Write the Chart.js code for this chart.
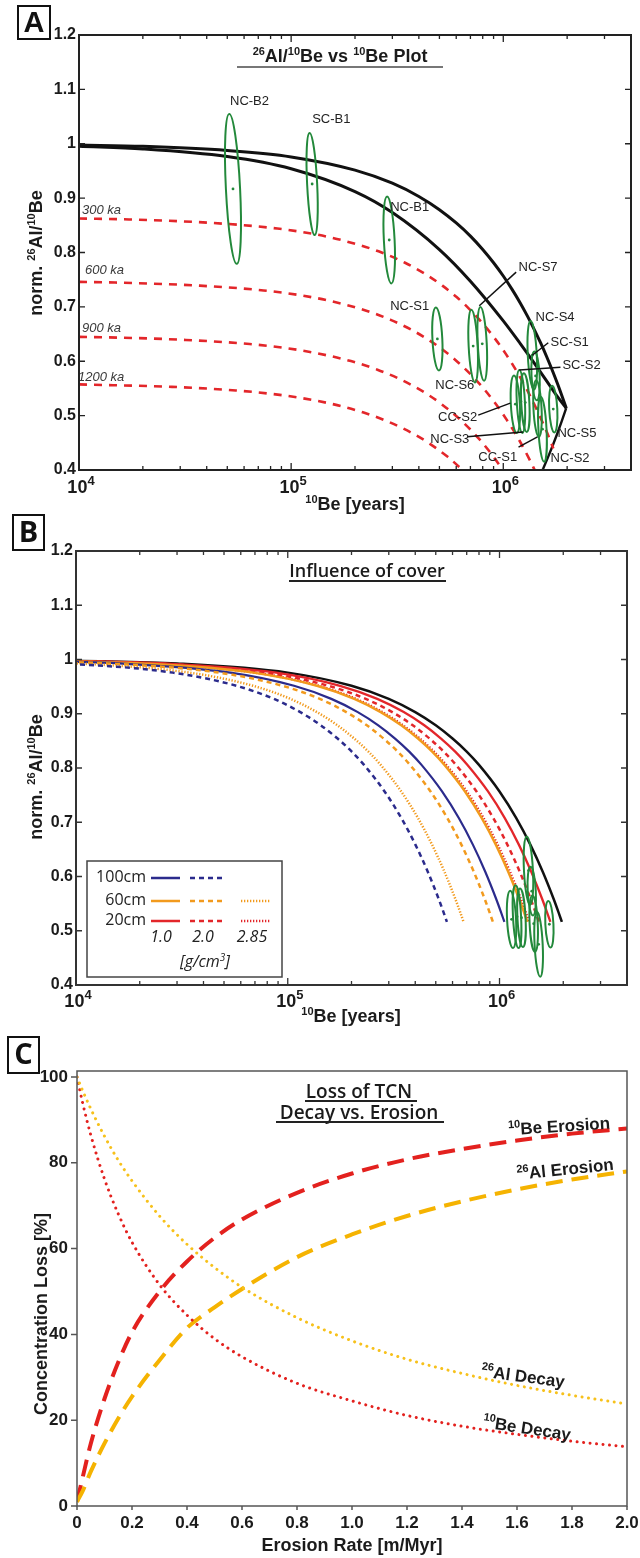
<!DOCTYPE html>
<html>
<head>
<meta charset="utf-8">
<title>26Al/10Be plots</title>
<script src="https://cdn.jsdelivr.net/npm/chart.js@4.4.1/dist/chart.umd.min.js"></script>
<style>
  html, body { margin: 0; padding: 0; background: #fff; }
  body { width: 640px; height: 1558px; position: relative; overflow: hidden; }
  canvas { position: absolute; left: 0; }
</style>
</head>
<body>
<canvas id="chartA" width="640" height="520" style="top:0"></canvas>
<canvas id="chartB" width="640" height="530" style="top:505px"></canvas>
<canvas id="chartC" width="640" height="528" style="top:1030px"></canvas>
<script>
/* three stacked panels: A) 26Al/10Be vs 10Be, B) influence of cover, C) loss of TCN */

// ---------- panel A data ----------
// constant exposure (upper black curve)
const expX = [1e4, 2e4, 5e4, 1e5, 2e5, 3e5, 4e5, 5e5, 6e5, 7e5, 8e5, 9e5, 1e6, 1.1e6, 1.2e6, 1.3e6, 1.4e6, 1.5e6, 1.6e6, 1.7e6, 1.8e6, 1.9e6, 1.95e6, 1.98e6];
const expR = [0.9976, 0.9952, 0.9875, 0.9758, 0.9515, 0.9274, 0.9030, 0.8787, 0.8543, 0.8302, 0.8057, 0.7812, 0.7568, 0.7322, 0.7077, 0.6830, 0.6583, 0.6336, 0.6088, 0.5839, 0.5590, 0.5339, 0.5213, 0.5137];
// steady state erosion (lower black curve)
const eroX = [1e4, 2e4, 5e4, 1e5, 2e5, 3e5, 5e5, 7e5, 1e6, 1.2e6, 1.4e6, 1.6e6, 1.8e6, 1.98e6];
const eroR = [0.9952, 0.9904, 0.9764, 0.9539, 0.9119, 0.8734, 0.8054, 0.7472, 0.6742, 0.6329, 0.5965, 0.5639, 0.5348, 0.5137];
// burial path from saturation
const burX = [1.98e6, 1.883e6, 1.792e6, 1.705e6, 1.622e6, 1.543e6, 1.504e6];
const burR = [0.5137, 0.4888, 0.4657, 0.4437, 0.4228, 0.4029, 0.3937];
// burial isochrons
const iso300X = [1.0e4, 1.722e4, 4.304e4, 8.608e4, 1.291e5, 1.722e5, 2.582e5, 3.443e5, 4.304e5, 5.165e5, 6.026e5, 6.886e5, 8.608e5, 1.033e6, 1.205e6, 1.377e6, 1.549e6, 1.636e6, 1.722e6];
const iso300R = [0.8626, 0.8608, 0.8542, 0.8441, 0.8337, 0.8230, 0.8022, 0.7811, 0.7601, 0.7390, 0.7181, 0.6969, 0.6546, 0.6122, 0.5694, 0.5266, 0.4835, 0.4618, 0.4394];
const iso600X = [1.0e4, 1.482e4, 3.705e4, 7.41e4, 1.112e5, 1.482e5, 2.223e5, 2.964e5, 3.705e5, 4.446e5, 5.187e5, 5.928e5, 7.41e5, 8.892e5, 1.037e6, 1.186e6, 1.334e6, 1.408e6];
const iso600R = [0.7459, 0.7447, 0.7390, 0.7302, 0.7212, 0.7120, 0.6940, 0.6757, 0.6575, 0.6393, 0.6212, 0.6029, 0.5663, 0.5296, 0.4926, 0.4556, 0.4183, 0.3995];
const iso900X = [1.0e4, 1.276e4, 3.189e4, 6.378e4, 9.567e4, 1.276e5, 1.913e5, 2.551e5, 3.189e5, 3.827e5, 4.465e5, 5.102e5, 6.378e5, 7.654e5, 8.929e5, 1.020e6];
const iso900R = [0.6448, 0.6442, 0.6392, 0.6316, 0.6239, 0.6159, 0.6003, 0.5845, 0.5688, 0.5530, 0.5374, 0.5215, 0.4899, 0.4581, 0.4261, 0.3941];
const iso1200X = [1.0e4, 2.745e4, 5.49e4, 8.235e4, 1.098e5, 1.647e5, 2.196e5, 2.745e5, 3.294e5, 3.843e5, 4.392e5, 5.49e5, 6.588e5];
const iso1200R = [0.5574, 0.5529, 0.5463, 0.5396, 0.5328, 0.5193, 0.5056, 0.4920, 0.4783, 0.4648, 0.4511, 0.4237, 0.3962];
const isoLabels = ['300 ka', '600 ka', '900 ka', '1200 ka'];

// samples (error ellipses)
const sampleNames = ['NC-B2', 'SC-B1', 'NC-B1', 'NC-S1', 'NC-S6', 'NC-S7', 'NC-S4', 'SC-S1', 'CC-S2', 'SC-S2', 'NC-S3', 'CC-S1', 'NC-S2', 'NC-S5'];
const sampleBe = [5.32e4, 1.256e5, 2.9e5, 4.89e5, 7.21e5, 7.96e5, 1.37e6, 1.42e6, 1.14e6, 1.21e6, 1.27e6, 1.45e6, 1.53e6, 1.72e6];
const sampleBeErr = [0.08, 0.056, 0.06, 0.055, 0.05, 0.05, 0.05, 0.045, 0.05, 0.045, 0.045, 0.045, 0.045, 0.045]; // relative
const sampleRatio = [0.917, 0.926, 0.823, 0.641, 0.628, 0.632, 0.611, 0.573, 0.521, 0.526, 0.524, 0.513, 0.475, 0.512];
const sampleRatioErr = [0.138, 0.094, 0.080, 0.058, 0.067, 0.068, 0.063, 0.045, 0.053, 0.058, 0.054, 0.052, 0.060, 0.043];
const coverSamples = [6, 7, 8, 9, 10, 11, 12, 13]; // shown again in panel B

// ---------- panel B data ----------
const bRatio = [0.9976, 0.9927, 0.9758, 0.9515, 0.9274, 0.9030, 0.8787, 0.8543, 0.8302, 0.8057, 0.7568, 0.7077, 0.6583, 0.6088, 0.5590, 0.5339, 0.5162];
const bNoCoverX = [1e4, 3e4, 1e5, 2e5, 3e5, 4e5, 5e5, 6e5, 7e5, 8e5, 1e6, 1.2e6, 1.4e6, 1.6e6, 1.8e6, 1.9e6, 1.97e6];
const b20cm10X = [8825, 26475, 88250, 176500, 264750, 353000, 441250, 529500, 617750, 706000, 882500, 1059000, 1235500, 1412000, 1588500, 1676750, 1738500];
const b20cm20X = [7788, 23364, 77880, 155760, 233640, 311520, 389400, 467280, 545160, 623040, 778800, 934560, 1090320, 1246080, 1401840, 1479720, 1534240];
const b20cm285X = [7003, 21009, 70030, 140060, 210090, 280120, 350150, 420180, 490210, 560240, 700300, 840360, 980420, 1120480, 1260540, 1330570, 1379590];
const b60cm10X = [6873, 20619, 68730, 137460, 206190, 274920, 343650, 412380, 481110, 549840, 687300, 824760, 962220, 1099680, 1237140, 1305870, 1353980];
const b60cm20X = [4724, 14172, 47240, 94480, 141720, 188960, 236200, 283440, 330680, 377920, 472400, 566880, 661360, 755840, 850320, 897560, 930630];
const b60cm285X = [3434, 10302, 34340, 68680, 103020, 137360, 171700, 206040, 240380, 274720, 343400, 412080, 480760, 549440, 618120, 652460, 676500];
const b100cm10X = [5353, 16059, 53530, 107060, 160590, 214120, 267650, 321180, 374710, 428240, 535300, 642360, 749420, 856480, 963540, 1017070, 1054540];
const b100cm20X = [2865, 8595, 28650, 57300, 85950, 114600, 143250, 171900, 200550, 229200, 286500, 343800, 401100, 458400, 515700, 544350, 564400];

// ---------- panel C data ----------
const erosionRate = [0, 0.02, 0.05, 0.1, 0.15, 0.2, 0.3, 0.4, 0.5, 0.6, 0.8, 1.0, 1.2, 1.4, 1.6, 1.8, 2.0];
const be10Erosion = [1, 6.5, 14.5, 25, 33.5, 40.5, 50, 57, 62.5, 66.8, 73, 77.5, 80.8, 83.2, 85.2, 86.8, 88];
const al26Erosion = [1, 3.4, 8, 14.6, 20.4, 25.5, 34, 41.5, 46.3, 50.6, 58, 63.3, 67.6, 71, 73.8, 76.1, 78];
const be10Decay = [100, 94.1, 86.5, 76.2, 68.1, 61.5, 51.6, 44.5, 39.0, 34.8, 28.6, 24.5, 21.1, 18.6, 16.7, 15.1, 13.8];
const al26Decay = [100, 96.9, 92.6, 86.2, 80.6, 75.8, 67.6, 61.0, 55.6, 51.0, 43.9, 38.5, 34.2, 30.9, 28.1, 25.8, 23.8];

// ---------- ticks ----------
const logMajor = [1e4, 1e5, 1e6];
const logMajorExp = ['4', '5', '6'];
const logMinor = [2e4, 3e4, 4e4, 5e4, 6e4, 7e4, 8e4, 9e4, 2e5, 3e5, 4e5, 5e5, 6e5, 7e5, 8e5, 9e5, 2e6, 3e6];
const ratioTicks = [0.4, 0.5, 0.6, 0.7, 0.8, 0.9, 1.0, 1.1, 1.2];
const ratioTickText = ['0.4', '0.5', '0.6', '0.7', '0.8', '0.9', '1', '1.1', '1.2'];
const cTicksX = [0, 0.2, 0.4, 0.6, 0.8, 1.0, 1.2, 1.4, 1.6, 1.8, 2.0];
const cTickTextX = ['0', '0.2', '0.4', '0.6', '0.8', '1.0', '1.2', '1.4', '1.6', '1.8', '2.0'];
const cTicksY = [0, 20, 40, 60, 80, 100];

// ---------- styling ----------
const INK = '#1b1b1b';
const SANS = '"Liberation Sans", Arial, Helvetica, sans-serif';
const OPEN = '"Open Sans", "Liberation Sans", sans-serif';
const GREEN = '#23893b', RED = '#e3262a', BLUE = '#2b2b8c', ORANGE = '#f29a1d';
const C_RED = '#e3211e', GOLD = '#f5b301', GOLD_DOT = '#f7c11b';
const DASH_B = [5, 4], DOT_B = [1.3, 1.7];

// annotation placement (data coordinates)
const labelAtX = [5.15e4, 1.256e5, 2.93e5, 2.93e5, 4.78e5, 1.18e6, 1.42e6, 1.67e6, 4.93e5, 1.90e6, 4.53e5, 7.62e5, 1.67e6, 1.80e6];
const labelAtY = [1.077, 1.045, 0.882, 0.700, 0.556, 0.773, 0.681, 0.635, 0.496, 0.593, 0.457, 0.424, 0.422, 0.468];
const leaders = [
  [1.15e6, 0.764, 7.71e5, 0.702],
  [1.63e6, 0.634, 1.37e6, 0.611],
  [1.86e6, 0.589, 1.19e6, 0.584],
  [7.62e5, 0.501, 1.08e6, 0.523],
  [6.76e5, 0.461, 1.24e6, 0.470],
  [1.18e6, 0.442, 1.45e6, 0.461]
];
const isoLabelX = [1.033e4, 1.067e4, 1.033e4, 0.99e4];
const isoLabelY = [0.877, 0.768, 0.661, 0.571];

function pts(xs, ys) { return xs.map((v, i) => ({ x: v, y: ys[i] })); }

function line(xs, ys, color, width, dash, extra) {
  return Object.assign({
    data: pts(xs, ys), borderColor: color, borderWidth: width, borderDash: dash || [],
    pointRadius: 0, fill: false, cubicInterpolationMode: 'monotone', clip: 0
  }, extra || {});
}

// text with superscript parts: [[text, isSup], ...]
function rich(ctx, parts, x, y, size, opts) {
  opts = opts || {};
  const weight = opts.weight || 'bold';
  const fam = opts.family || SANS;
  const sup = opts.sup || Math.round(size * 0.62);
  const rise = opts.rise || size * 0.4;
  const style = opts.italic ? 'italic ' : '';
  let w = 0;
  parts.forEach(p => { ctx.font = `${style}${weight} ${p[1] ? sup : size}px ${fam}`; w += ctx.measureText(p[0]).width; });
  let cx = opts.align === 'center' ? x - w / 2 : opts.align === 'right' ? x - w : x;
  ctx.textAlign = 'left';
  parts.forEach(p => {
    ctx.font = `${style}${weight} ${p[1] ? sup : size}px ${fam}`;
    ctx.fillText(p[0], cx, p[1] ? y - rise : y);
    cx += ctx.measureText(p[0]).width;
  });
  return w;
}

function letterBox(ctx, ch, l, t, w, h, font) {
  ctx.save();
  ctx.lineWidth = 2; ctx.strokeStyle = '#111'; ctx.strokeRect(l, t, w, h);
  ctx.fillStyle = '#111'; ctx.font = font; ctx.textAlign = 'center'; ctx.textBaseline = 'middle';
  ctx.fillText(ch, l + w / 2, t + h / 2 + 1);
  ctx.restore();
}

function underlinedTitle(ctx, parts, cx, base, size, family, weight, lineY, x0, x1, lineColor) {
  ctx.save();
  ctx.fillStyle = INK; ctx.textBaseline = 'alphabetic';
  rich(ctx, parts, cx, base, size, { align: 'center', family: family, weight: weight });
  ctx.strokeStyle = lineColor; ctx.lineWidth = 1.8;
  ctx.beginPath(); ctx.moveTo(x0, lineY); ctx.lineTo(x1, lineY); ctx.stroke();
  ctx.restore();
}

function drawEllipses(chart, ids) {
  const { ctx, chartArea: a, scales: { x, y } } = chart;
  ctx.save();
  ctx.beginPath(); ctx.rect(a.left, a.top, a.width, a.height); ctx.clip();
  ctx.strokeStyle = GREEN; ctx.fillStyle = GREEN; ctx.lineWidth = 2;
  ids.forEach(i => {
    const cx = x.getPixelForValue(sampleBe[i]);
    const cy = y.getPixelForValue(sampleRatio[i]);
    const rx = (x.getPixelForValue(sampleBe[i] * (1 + sampleBeErr[i])) - x.getPixelForValue(sampleBe[i] / (1 + sampleBeErr[i]))) / 2;
    const ry = (y.getPixelForValue(sampleRatio[i] - sampleRatioErr[i]) - y.getPixelForValue(sampleRatio[i] + sampleRatioErr[i])) / 2;
    ctx.beginPath(); ctx.ellipse(cx, cy, rx, ry, -0.05, 0, Math.PI * 2); ctx.stroke();
    ctx.beginPath(); ctx.arc(cx, cy, 1.4, 0, Math.PI * 2); ctx.fill();
  });
  ctx.restore();
}

// frame, inward ticks and axis text for the two log panels
function drawLogAxes(chart, s) {
  const { ctx, chartArea: a, scales: { x, y } } = chart;
  ctx.save();
  ctx.strokeStyle = s.frame; ctx.lineWidth = 1.3;
  ctx.beginPath();
  logMinor.forEach(v => {
    const p = x.getPixelForValue(v);
    ctx.moveTo(p, a.bottom); ctx.lineTo(p, a.bottom - 4);
    ctx.moveTo(p, a.top); ctx.lineTo(p, a.top + 4);
  });
  logMajor.forEach(v => {
    const p = x.getPixelForValue(v);
    ctx.moveTo(p, a.bottom); ctx.lineTo(p, a.bottom - 7);
    ctx.moveTo(p, a.top); ctx.lineTo(p, a.top + 7);
  });
  ratioTicks.forEach(v => {
    const p = y.getPixelForValue(v);
    ctx.moveTo(a.left, p); ctx.lineTo(a.left + 6, p);
    ctx.moveTo(a.right, p); ctx.lineTo(a.right - 6, p);
  });
  ctx.stroke();
  ctx.lineWidth = s.frameWidth;
  ctx.strokeRect(a.left, a.top, a.width, a.height);

  ctx.fillStyle = INK;
  ctx.font = 'bold 16px ' + SANS; ctx.textAlign = 'right'; ctx.textBaseline = 'middle';
  ratioTicks.forEach((v, i) => ctx.fillText(ratioTickText[i], s.yLabelRight, y.getPixelForValue(v)));
  ctx.textBaseline = 'alphabetic';
  logMajor.forEach((v, i) => rich(ctx, [['10', 0], [logMajorExp[i], 1]], x.getPixelForValue(v) + 2, s.xLabelBase, 18, { align: 'center', sup: 13, rise: 8 }));
  rich(ctx, [['10', 1], ['Be [years]', 0]], s.xTitleX, s.xTitleBase, 18, { align: 'center' });
  ctx.save();
  ctx.translate(s.yTitleBase, s.yTitleY); ctx.rotate(-Math.PI / 2);
  rich(ctx, [['norm. ', 0], ['26', 1], ['Al/', 0], ['10', 1], ['Be', 0]], 0, 0, 18, { align: 'center' });
  ctx.restore();
  ctx.restore();
}

const hiddenAxis = {
  ticks: { display: false }, grid: { display: false, drawTicks: false }, border: { display: false },
  title: { display: false }, afterFit: s => { s.width = 0; s.height = 0; }
};

function baseOptions(xs, ys, pad) {
  return {
    responsive: false, animation: false, devicePixelRatio: 1,
    layout: { padding: pad },
    plugins: { legend: { display: false }, tooltip: { enabled: false }, title: { display: false } },
    scales: { x: Object.assign({}, hiddenAxis, xs), y: Object.assign({}, hiddenAxis, ys) }
  };
}

// ================= panel A =================
const decorA = {
  id: 'decorA',
  afterDatasetsDraw(chart) { drawEllipses(chart, sampleNames.map((n, i) => i)); },
  afterDraw(chart) {
    const { ctx, scales: { x, y } } = chart;
    ctx.save();
    // leader lines
    ctx.strokeStyle = '#111'; ctx.lineWidth = 1.5;
    leaders.forEach(l => {
      ctx.beginPath();
      ctx.moveTo(x.getPixelForValue(l[0]), y.getPixelForValue(l[1]));
      ctx.lineTo(x.getPixelForValue(l[2]), y.getPixelForValue(l[3]));
      ctx.stroke();
    });
    // sample labels
    ctx.fillStyle = '#222'; ctx.font = '13px ' + SANS; ctx.textAlign = 'left'; ctx.textBaseline = 'middle';
    sampleNames.forEach((n, i) => ctx.fillText(n, x.getPixelForValue(labelAtX[i]), y.getPixelForValue(labelAtY[i])));
    // isochron labels
    ctx.fillStyle = '#3a3a3a'; ctx.font = 'italic 13px ' + SANS;
    isoLabels.forEach((t, i) => ctx.fillText(t, x.getPixelForValue(isoLabelX[i]), y.getPixelForValue(isoLabelY[i])));
    ctx.restore();

    drawLogAxes(chart, { frame: '#222', frameWidth: 2, yLabelRight: 76, xLabelBase: 493, xTitleX: 355, xTitleBase: 510, yTitleBase: 42, yTitleY: 253 });
    underlinedTitle(ctx, [['26', 1], ['Al/', 0], ['10', 1], ['Be vs ', 0], ['10', 1], ['Be Plot', 0]], 340, 62, 18, SANS, 'bold', 67, 237, 443, '#777');
    letterBox(ctx, 'A', 18, 6, 32, 33, 'bold 29px ' + SANS);
  }
};

new Chart(document.getElementById('chartA'), {
  type: 'line',
  data: {
    datasets: [
      line(iso300X, iso300R, RED, 2.6, [8, 7]),
      line(iso600X, iso600R, RED, 2.6, [8, 7]),
      line(iso900X, iso900R, RED, 2.6, [8, 7]),
      line(iso1200X, iso1200R, RED, 2.6, [8, 7]),
      line(expX, expR, '#111', 3),
      line(eroX, eroR, '#111', 3),
      line(burX, burR, '#111', 2.4, [], { cubicInterpolationMode: 'default', tension: 0 })
    ]
  },
  options: baseOptions({ type: 'logarithmic', min: 1e4, max: 4e6 }, { type: 'linear', min: 0.4, max: 1.2 }, { left: 79, right: 9, top: 35, bottom: 50 }),
  plugins: [decorA]
});

// ================= panel B =================
function drawLegendB(ctx) {
  ctx.save();
  ctx.fillStyle = '#fff'; ctx.fillRect(87, 356, 195, 116);
  ctx.strokeStyle = '#444'; ctx.lineWidth = 1.5; ctx.strokeRect(87, 356, 195, 116);
  const rows = [
    ['100cm', BLUE, 372, [[], DASH_B, null]],
    ['60cm', ORANGE, 395, [[], DASH_B, DOT_B]],
    ['20cm', RED, 415, [[], DASH_B, DOT_B]]
  ];
  const cols = [[151, 180], [190, 225], [241, 271]];
  rows.forEach(r => {
    ctx.fillStyle = '#222'; ctx.font = '16px ' + OPEN; ctx.textAlign = 'right'; ctx.textBaseline = 'middle';
    ctx.fillText(r[0], 146, r[2]);
    r[3].forEach((d, j) => {
      if (!d) return;
      ctx.strokeStyle = r[1]; ctx.lineWidth = 2.5; ctx.setLineDash(d);
      ctx.beginPath(); ctx.moveTo(cols[j][0], r[2] + 1); ctx.lineTo(cols[j][1], r[2] + 1); ctx.stroke();
    });
  });
  ctx.setLineDash([]);
  ctx.fillStyle = '#222'; ctx.textAlign = 'center'; ctx.textBaseline = 'middle'; ctx.font = 'italic 16px ' + OPEN;
  ctx.fillText('1.0', 161, 432);
  ctx.fillText('2.0', 203, 432);
  ctx.fillText('2.85', 252, 432);
  ctx.textBaseline = 'alphabetic';
  rich(ctx, [['[g/cm', 0], ['3', 1], [']', 0]], 205, 462, 16, { align: 'center', family: OPEN, weight: 'normal', italic: true, sup: 10, rise: 6 });
  ctx.restore();
}

const decorB = {
  id: 'decorB',
  afterDatasetsDraw(chart) { drawEllipses(chart, coverSamples); },
  afterDraw(chart) {
    const { ctx } = chart;
    drawLegendB(ctx);
    drawLogAxes(chart, { frame: '#333', frameWidth: 2, yLabelRight: 73, xLabelBase: 502, xTitleX: 351, xTitleBase: 517, yTitleBase: 42, yTitleY: 272 });
    underlinedTitle(ctx, [['Influence of cover', 0]], 367, 72, 18, OPEN, '600', 76, 289, 446, '#222');
    letterBox(ctx, 'B', 13, 10, 31, 35, 'bold 29px ' + OPEN);
  }
};

new Chart(document.getElementById('chartB'), {
  type: 'line',
  data: {
    datasets: [
      line(b100cm20X, bRatio, BLUE, 2.5, DASH_B),
      line(b60cm285X, bRatio, ORANGE, 2.5, DOT_B),
      line(b60cm20X, bRatio, ORANGE, 2.5, DASH_B),
      line(b100cm10X, bRatio, BLUE, 2.2),
      line(b60cm10X, bRatio, ORANGE, 2.5),
      line(b20cm285X, bRatio, RED, 2.5, DOT_B),
      line(b20cm20X, bRatio, RED, 2.5, DASH_B),
      line(b20cm10X, bRatio, RED, 2.3),
      line(bNoCoverX, bRatio, '#111', 2.5)
    ]
  },
  options: baseOptions({ type: 'logarithmic', min: 1e4, max: 4e6 }, { type: 'linear', min: 0.4, max: 1.2 }, { left: 76, right: 13, top: 46, bottom: 50 }),
  plugins: [decorB]
});

// ================= panel C =================
const cCurveLabels = [
  { parts: [['10', 1], ['Be Erosion', 0]], x: 1.753, y: 88.6, rot: -3.7 },
  { parts: [['26', 1], ['Al Erosion', 0]], x: 1.775, y: 78.6, rot: -5.9 },
  { parts: [['26', 1], ['Al Decay', 0]], x: 1.622, y: 30.3, rot: 7.5 },
  { parts: [['10', 1], ['Be Decay', 0]], x: 1.636, y: 18.2, rot: 8.5 }
];

const decorC = {
  id: 'decorC',
  afterDraw(chart) {
    const { ctx, chartArea: a, scales: { x, y } } = chart;
    ctx.save();
    ctx.strokeStyle = '#555'; ctx.lineWidth = 1.5;
    ctx.strokeRect(a.left, a.top, a.width, a.height);
    ctx.beginPath();
    cTicksY.forEach(v => { const p = y.getPixelForValue(v); ctx.moveTo(a.left - 6, p); ctx.lineTo(a.left, p); });
    cTicksX.forEach(v => { const p = x.getPixelForValue(v); ctx.moveTo(p, a.bottom); ctx.lineTo(p, a.bottom + 4); });
    ctx.stroke();

    ctx.fillStyle = INK; ctx.font = 'bold 17px ' + SANS;
    ctx.textAlign = 'right'; ctx.textBaseline = 'middle';
    cTicksY.forEach(v => ctx.fillText(String(v), 68, y.getPixelForValue(v)));
    ctx.textAlign = 'center'; ctx.textBaseline = 'alphabetic';
    cTicksX.forEach((v, i) => ctx.fillText(cTickTextX[i], x.getPixelForValue(v), 498));
    ctx.font = 'bold 18px ' + SANS;
    ctx.fillText('Erosion Rate [m/Myr]', 352, 521);
    ctx.save();
    ctx.translate(47, 284); ctx.rotate(-Math.PI / 2);
    ctx.fillText('Concentration Loss [%]', 0, 0);
    ctx.restore();

    cCurveLabels.forEach(l => {
      ctx.save();
      ctx.translate(x.getPixelForValue(l.x), y.getPixelForValue(l.y));
      ctx.rotate(l.rot * Math.PI / 180);
      rich(ctx, l.parts, 0, 6, 17, { align: 'center', sup: 11, rise: 7 });
      ctx.restore();
    });
    ctx.restore();

    underlinedTitle(ctx, [['Loss of TCN', 0]], 359, 68, 19, OPEN, '600', 71, 305, 417, '#222');
    underlinedTitle(ctx, [['Decay vs. Erosion', 0]], 359, 89, 19, OPEN, '600', 92, 276, 444, '#222');
    letterBox(ctx, 'C', 8, 7, 31, 36, 'bold 29px ' + OPEN);
  }
};

const dotted = { borderCapStyle: 'round' };
new Chart(document.getElementById('chartC'), {
  type: 'line',
  data: {
    datasets: [
      line(erosionRate, al26Decay, GOLD_DOT, 3, [0.01, 6.5], dotted),
      line(erosionRate, be10Decay, C_RED, 3, [0.01, 6.5], dotted),
      line(erosionRate, al26Erosion, GOLD, 4, [17, 9]),
      line(erosionRate, be10Erosion, C_RED, 4, [17, 9])
    ]
  },
  options: baseOptions({ type: 'linear', min: 0, max: 2.0 }, { type: 'linear', min: 0, max: 101.4 }, { left: 77, right: 13, top: 41, bottom: 52 }),
  plugins: [decorC]
});
</script>
</body>
</html>
